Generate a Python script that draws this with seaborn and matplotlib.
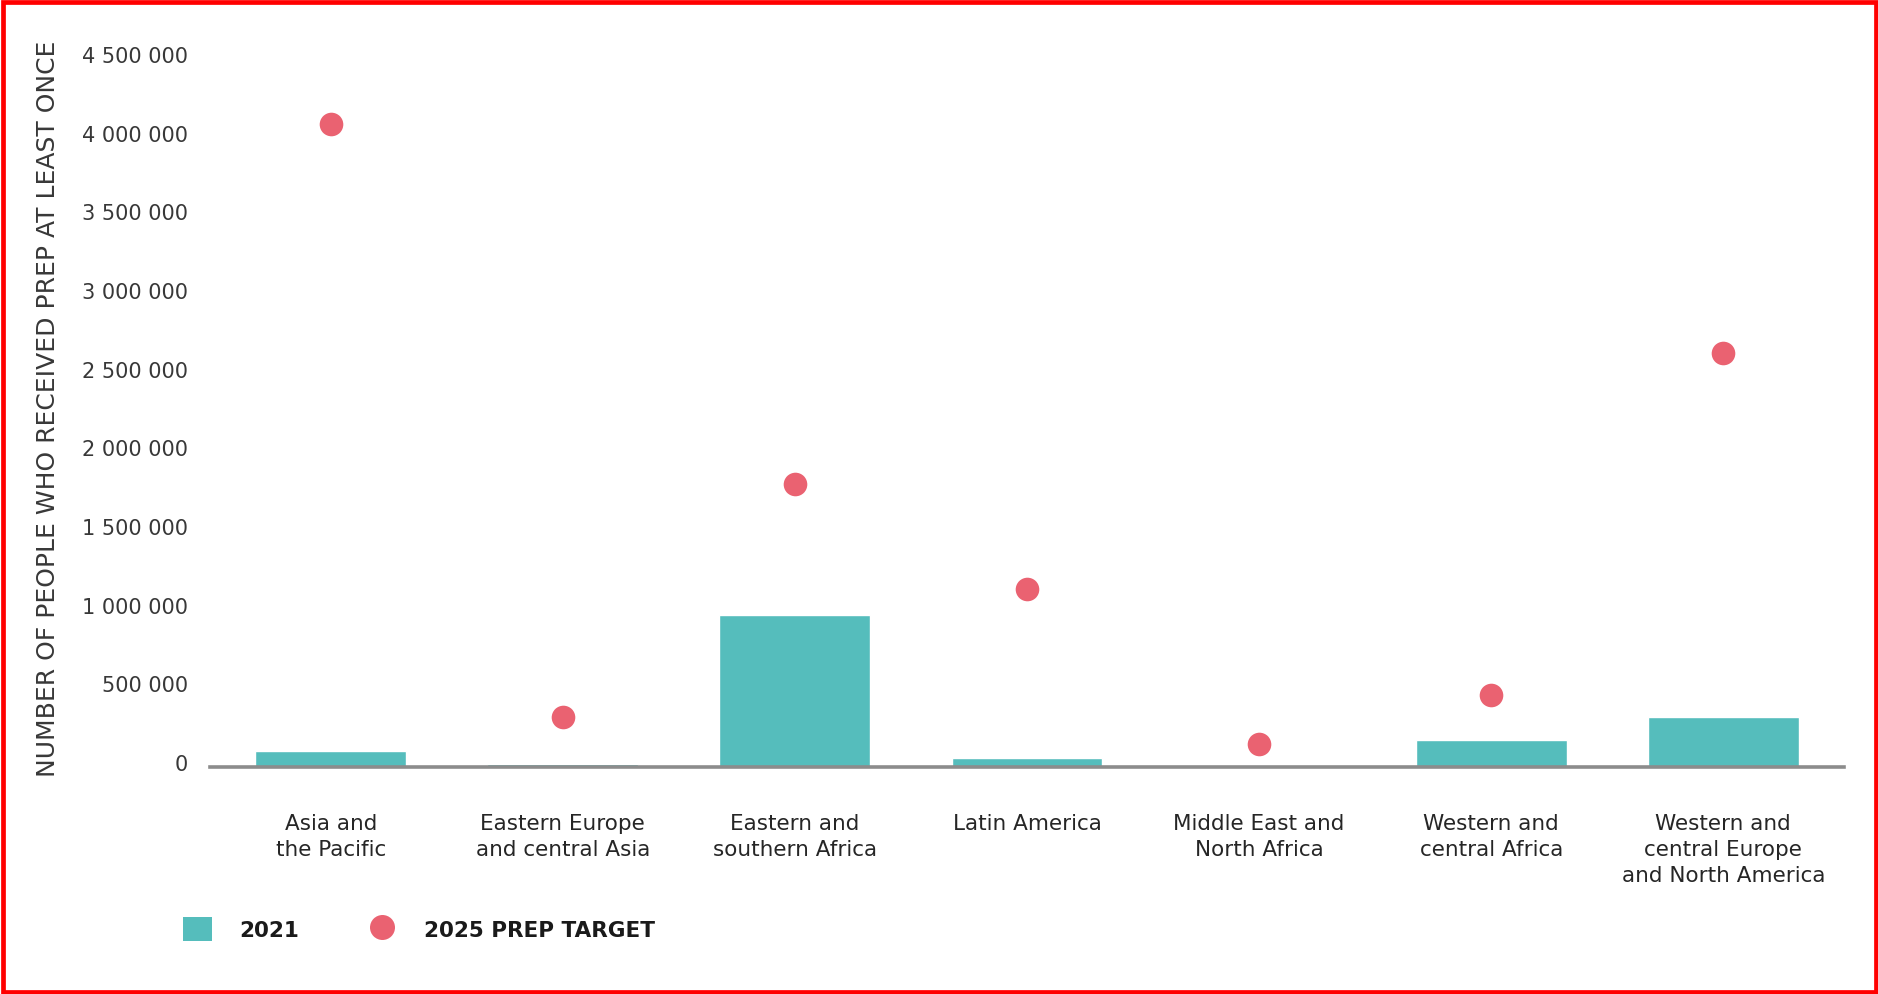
import matplotlib
matplotlib.use("Agg")
import matplotlib.pyplot as plt
import matplotlib.transforms as mtransforms
from matplotlib.patches import Patch, Rectangle
from matplotlib.lines import Line2D
from matplotlib.ticker import FuncFormatter, FixedLocator
import seaborn as sns
import pandas as pd

# ---------------- data ----------------
categories = [
    "Asia and\nthe Pacific",
    "Eastern Europe\nand central Asia",
    "Eastern and\nsouthern Africa",
    "Latin America",
    "Middle East and\nNorth Africa",
    "Western and\ncentral Africa",
    "Western and\ncentral Europe\nand North America",
]
prep_2021 = [100000, 18000, 965000, 60000, 12000, 170000, 320000]
target_2025 = [4085000, 320000, 1800000, 1130000, 145000, 460000, 2633000]
y_ticks = [0, 500000, 1000000, 1500000, 2000000, 2500000, 3000000, 3500000, 4000000, 4500000]
y_label = "NUMBER OF PEOPLE WHO RECEIVED PREP AT LEAST ONCE"
legend_labels = ["2021", "2025 PREP TARGET"]

TEAL = "#55BDBC"
PINK = "#EA6271"
TXT = "#383838"

df = pd.DataFrame({"region": categories, "y2021": prep_2021, "target": target_2025})

sns.set_style("white")
plt.rcParams["font.family"] = ["DejaVu Sans"]

fig = plt.figure(figsize=(18.78, 9.95), dpi=100)
ax = fig.add_axes([210 / 1878, 1 - 768 / 995, (1844 - 210) / 1878, (768 - 60) / 995])

sns.barplot(data=df, x="region", y="y2021", color=TEAL, saturation=1, width=0.65,
            ax=ax, zorder=1)
sns.stripplot(data=df, x="region", y="target", color=PINK, jitter=False, size=17,
              linewidth=0, ax=ax, zorder=3)

ax.set_xlim(-0.52, len(categories) - 1 + 0.52)
ax.set_ylim(0, 4500000)
ax.yaxis.set_major_locator(FixedLocator(y_ticks))
ax.yaxis.set_major_formatter(FuncFormatter(lambda v, p: f"{int(v):,}".replace(",", " ")))

for s in ["top", "right", "left"]:
    ax.spines[s].set_visible(False)
ax.spines["bottom"].set_color("#8c8c8c")
ax.spines["bottom"].set_linewidth(2.6)
ax.spines["bottom"].set_zorder(2.5)

ax.tick_params(axis="y", length=0, pad=16, labelsize=15, labelcolor=TXT)
ax.tick_params(axis="x", length=0, pad=33, labelcolor="#262626")
ax.set_xlabel("")
ax.set_ylabel(y_label, fontsize=18, color=TXT)
ax.yaxis.set_label_coords(-0.0915, 0.508)

for lab in ax.get_xticklabels():
    lab.set_fontsize(15.5)
    lab.set_linespacing(1.38)

offset = mtransforms.ScaledTranslation(0, 0.05, fig.dpi_scale_trans)
for lab in ax.get_yticklabels():
    lab.set_transform(lab.get_transform() + offset)

handles = [
    Patch(facecolor=TEAL, edgecolor="none"),
    Line2D([0], [0], marker="o", linestyle="none", markersize=18,
           markerfacecolor=PINK, markeredgewidth=0),
]
leg = fig.legend(handles, legend_labels, loc="center left",
                 bbox_to_anchor=(183 / 1878, 1 - 930 / 995), ncol=2, frameon=False,
                 prop={"weight": "bold", "size": 15.5}, handlelength=1.35, handleheight=1.3,
                 handletextpad=1.25, columnspacing=3.2, borderaxespad=0, borderpad=0)
for t in leg.get_texts():
    t.set_color("#1a1a1a")

fig.add_artist(Rectangle((2.5 / 1878, 2.5 / 995), 1 - 5 / 1878, 1 - 5 / 995,
                         transform=fig.transFigure, fill=False, edgecolor="#ff0000",
                         linewidth=3.4, zorder=10))

fig.savefig("out.png", dpi=100)
